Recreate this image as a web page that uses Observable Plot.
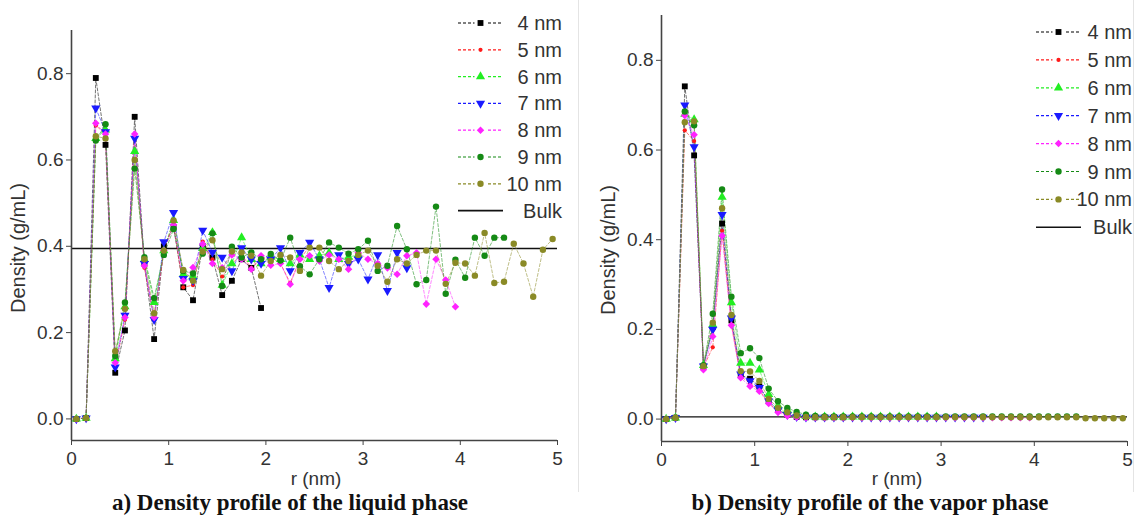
<!DOCTYPE html>
<html>
<head>
<meta charset="utf-8">
<script src="https://cdn.jsdelivr.net/npm/d3@7"></script>
<script src="https://cdn.jsdelivr.net/npm/@observablehq/plot@0.6"></script>
<style>
  html, body { margin: 0; padding: 0; background: #fff; }
  #page { position: relative; width: 1140px; height: 516px; overflow: hidden; font-family: "Liberation Sans", Arial, sans-serif; }
  .panel { position: absolute; top: 0; }
  .caption { position: absolute; top: 490px; font-family: "Liberation Serif", "Times New Roman", serif; font-weight: bold; font-size: 23px; color: #111; white-space: nowrap; transform: translateX(-50%); }
  .border { position: absolute; top: 0; width: 1px; height: 492px; background: #e4e4e4; }
</style>
</head>
<body>
<div id="page">
  <div class="panel" id="left" style="left:0px"></div>
  <div class="panel" id="right" style="left:578px"></div>
  <div class="border" style="left:578px"></div>
  <div class="border" style="left:1133px"></div>
  <div class="caption" style="left:290px">a) Density profile of the liquid phase</div>
  <div class="caption" style="left:870px">b) Density profile of the vapor phase</div>
</div>
<script>
// ---------- data ----------
const rBins = [0.05,0.15,0.25,0.35,0.45,0.55,0.65,0.75,0.85,0.95,
               1.05,1.15,1.25,1.35,1.45,1.55,1.65,1.75,1.85,1.95,
               2.05,2.15,2.25,2.35,2.45,2.55,2.65,2.75,2.85,2.95,
               3.05,3.15,3.25,3.35,3.45,3.55,3.65,3.75,3.85,3.95,
               4.05,4.15,4.25,4.35,4.45,4.55,4.65,4.75,4.85,4.95];
const sizes = ["4 nm","5 nm","6 nm","7 nm","8 nm","9 nm","10 nm"];
const colors = ["#000000","#ff1a1a","#22ee22","#1a1aff","#ff22ff","#158a15","#8a8a26"];
const symbols = ["square","circle","triangle","triangle","diamond2","circle","circle"];
const rotations = [0,0,0,180,0,0,0];
const radii = [3.3,2.1,3.4,3.4,3.4,3.2,3.2];
const xTicks = [0,1,2,3,4,5];
const yTicks = [0,0.2,0.4,0.6,0.8];
const bulkLiquid = 0.395;
const bulkVapor = 0.005;

// liquid phase
const liquid4 = [0,0.002,0.79,0.635,0.107,0.205,0.70,0.36,0.185,0.40,0.445,0.305,0.275,0.40,0.374,0.287,0.32,0.37,0.35,0.257];
const liquid5 = [0,0.002,0.68,0.66,0.12,0.23,0.655,0.35,0.23,0.39,0.45,0.305,0.31,0.411,0.37,0.33,0.36,0.38,0.35,0.37,0.375,0.36,0.315,0.37,0.40];
const liquid6 = [0,0.002,0.65,0.67,0.14,0.26,0.62,0.37,0.27,0.39,0.46,0.335,0.33,0.395,0.432,0.31,0.36,0.42,0.37,0.36,0.375,0.37,0.36,0.38,0.37,0.378,0.385,0.37,0.375,0.38];
const liquid7 = [0,0.002,0.72,0.665,0.12,0.24,0.65,0.36,0.23,0.41,0.478,0.325,0.32,0.437,0.386,0.374,0.343,0.396,0.37,0.36,0.37,0.396,0.343,0.385,0.409,0.37,0.304,0.38,0.36,0.37,0.324,0.38,0.297,0.385,0.35];
const liquid8 = [0,0.002,0.685,0.66,0.13,0.235,0.66,0.355,0.235,0.39,0.45,0.32,0.351,0.405,0.36,0.35,0.38,0.37,0.347,0.378,0.356,0.36,0.312,0.37,0.378,0.366,0.38,0.37,0.347,0.385,0.37,0.36,0.35,0.335,0.378,0.385,0.266,0.37,0.322,0.26];
const liquid9 = [0,0.002,0.645,0.683,0.146,0.27,0.58,0.375,0.28,0.38,0.44,0.343,0.337,0.383,0.43,0.308,0.399,0.374,0.386,0.37,0.382,0.367,0.42,0.354,0.335,0.37,0.409,0.397,0.383,0.393,0.413,0.343,0.355,0.447,0.393,0.312,0.322,0.492,0.29,0.369,0.327,0.42,0.378,0.42,0.42];
const liquid10 = [0,0.002,0.655,0.65,0.157,0.255,0.60,0.37,0.245,0.39,0.46,0.345,0.32,0.388,0.414,0.347,0.388,0.386,0.378,0.332,0.366,0.38,0.374,0.343,0.397,0.397,0.366,0.347,0.366,0.38,0.39,0.355,0.318,0.37,0.36,0.38,0.39,0.39,0.313,0.362,0.36,0.332,0.431,0.315,0.318,0.406,0.36,0.283,0.392,0.417];

// vapor phase
const vapor4 = [0,0.003,0.742,0.588,0.118,0.205,0.436,0.22,0.098,0.09,0.073,0.04,0.02,0.01,0.005,0.004,0.004,0.004,0.004,0.004];
const vapor5 = [0,0.003,0.644,0.62,0.116,0.16,0.42,0.21,0.095,0.08,0.065,0.035,0.018,0.009,0.005,0.004,0.004,0.004,0.004,0.004,0.004,0.004,0.004,0.004,0.004];
const vapor6 = [0,0.003,0.68,0.668,0.12,0.21,0.495,0.26,0.125,0.125,0.11,0.055,0.03,0.02,0.01,0.006,0.005,0.005,0.005,0.005,0.005,0.005,0.005,0.005,0.005,0.005,0.005,0.005,0.005,0.005];
const vapor7 = [0,0.003,0.70,0.607,0.118,0.20,0.456,0.225,0.10,0.085,0.07,0.04,0.02,0.01,0.005,0.004,0.004,0.004,0.004,0.004,0.004,0.004,0.004,0.004,0.004,0.004,0.004,0.004,0.004,0.004,0.004,0.004,0.004,0.004,0.004];
const vapor8 = [0,0.003,0.677,0.634,0.11,0.184,0.409,0.209,0.092,0.073,0.062,0.035,0.015,0.007,0.004,0.003,0.003,0.003,0.003,0.003,0.003,0.003,0.003,0.003,0.003,0.003,0.003,0.003,0.003,0.003,0.003,0.003,0.003,0.003,0.003,0.003,0.003,0.003,0.003,0.003];
const vapor9 = [0,0.003,0.686,0.655,0.12,0.235,0.512,0.273,0.147,0.158,0.136,0.068,0.04,0.025,0.016,0.01,0.007,0.006,0.006,0.006,0.006,0.006,0.006,0.006,0.006,0.006,0.006,0.006,0.006,0.006,0.006,0.006,0.006,0.006,0.006,0.006,0.006,0.006,0.006,0.006,0.006,0.006,0.006,0.006,0.006];
const vapor10 = [0,0.003,0.662,0.664,0.118,0.215,0.47,0.232,0.107,0.106,0.085,0.045,0.025,0.015,0.008,0.005,0.004,0.004,0.004,0.004,0.004,0.004,0.004,0.004,0.004,0.004,0.004,0.004,0.004,0.004,0.004,0.004,0.004,0.004,0.004,0.004,0.004,0.004,0.004,0.004,0.004,0.004,0.004,0.004,0.004,0.002,0.002,0.002,0.002,0.002];

const liquidSeries = [liquid4,liquid5,liquid6,liquid7,liquid8,liquid9,liquid10];
const vaporSeries = [vapor4,vapor5,vapor6,vapor7,vapor8,vapor9,vapor10];

function rowsOf(series) {
  return series.flatMap((vals, k) => vals.map((v, i) => ({r: rBins[i], d: v, s: sizes[k], k})));
}

function symbolPath(name, r) {
  const t = {square: d3.symbolSquare, circle: d3.symbolCircle, triangle: d3.symbolTriangle, diamond2: d3.symbolDiamond2}[name];
  return d3.symbol(t, Math.PI * r * r)();
}

function makePanel(series, bulk, opts) {
  const rows = rowsOf(series);
  const marks = [
    Plot.ruleY([bulk], {x1: 0, x2: 5, stroke: "#111", strokeWidth: 1.4}),
    Plot.line(rows, {x: "r", y: "d", z: "s", stroke: "s", strokeWidth: 1, strokeDasharray: "3,2", strokeOpacity: 0.55}),
  ];
  sizes.forEach((s, k) => {
    marks.push(Plot.dot(rows.filter(d => d.k === k), {
      x: "r", y: "d", fill: colors[k], stroke: "none",
      symbol: symbols[k], r: radii[k], rotate: rotations[k]
    }));
  });
  marks.push(
    Plot.ruleX([0], {y1: -0.05, y2: 0.9, stroke: "#444", strokeWidth: 1.6}),
    Plot.ruleY([-0.05], {x1: 0, x2: 5, stroke: "#444", strokeWidth: 1.6}),
    Plot.axisX({ticks: xTicks, tickFormat: d3.format("d"), tickSize: 5, tickPadding: 6, fontSize: 19, label: null, stroke: "#444"}),
    Plot.axisY({ticks: yTicks, tickFormat: d3.format(".1f"), tickSize: 5, tickPadding: 3, fontSize: 19, label: null, stroke: "#444"})
  );
  const svg = Plot.plot({
    width: opts.width, height: 492,
    marginLeft: opts.ml, marginRight: opts.mr, marginTop: opts.mt, marginBottom: opts.mb,
    x: {domain: [0, 5]},
    y: {domain: [-0.05, 0.9]},
    color: {domain: sizes, range: colors},
    style: {fontFamily: "Liberation Sans, Arial, sans-serif", color: "#333", background: "transparent", overflow: "visible"},
    marks
  });
  const g = d3.select(svg);
  // axis titles
  g.append("text").attr("transform", `translate(${opts.ylx},${opts.yly}) rotate(-90)`)
    .attr("text-anchor", "middle").attr("dominant-baseline", "central")
    .attr("font-size", 20).attr("fill", "#333").text("Density (g/mL)");
  g.append("text").attr("x", opts.xlx).attr("y", 485)
    .attr("text-anchor", "middle").attr("font-size", 19).attr("fill", "#333").text("r (nm)");
  // legend
  const lg = g.append("g");
  const labels = sizes.concat(["Bulk"]);
  labels.forEach((lab, k) => {
    const y = opts.legY + k * opts.legDy;
    if (k < sizes.length) {
      lg.append("line").attr("x1", opts.legX1).attr("x2", opts.legX2).attr("y1", y).attr("y2", y)
        .attr("stroke", colors[k]).attr("stroke-width", 1.2).attr("stroke-dasharray", "3,2");
      lg.append("rect").attr("x", (opts.legX1 + opts.legX2) / 2 - 6).attr("y", y - 5).attr("width", 12).attr("height", 10).attr("fill", "#fff");
      lg.append("path").attr("d", symbolPath(symbols[k], radii[k]))
        .attr("transform", `translate(${(opts.legX1 + opts.legX2) / 2},${y}) rotate(${rotations[k]})`)
        .attr("fill", colors[k]);
    } else {
      lg.append("line").attr("x1", opts.legX1).attr("x2", opts.legX2).attr("y1", y).attr("y2", y)
        .attr("stroke", "#111").attr("stroke-width", 1.6);
    }
    lg.append("text").attr("x", opts.legTx).attr("y", y).attr("text-anchor", "end")
      .attr("dominant-baseline", "central").attr("font-size", 20).attr("fill", "#333").text(lab);
  });
  return svg;
}

document.getElementById("left").append(makePanel(liquidSeries, bulkLiquid, {
  width: 578, ml: 71, mr: 21, mt: 30, mb: 52,
  ylx: 18, yly: 248, xlx: 316,
  legY: 23, legDy: 26.8, legX1: 458, legX2: 503, legTx: 562
}));
document.getElementById("right").append(makePanel(vaporSeries, bulkVapor, {
  width: 562, ml: 83, mr: 13, mt: 15, mb: 51,
  ylx: 30, yly: 250, xlx: 319,
  legY: 32, legDy: 27.9, legX1: 458, legX2: 503, legTx: 554
}));
</script>
</body>
</html>
